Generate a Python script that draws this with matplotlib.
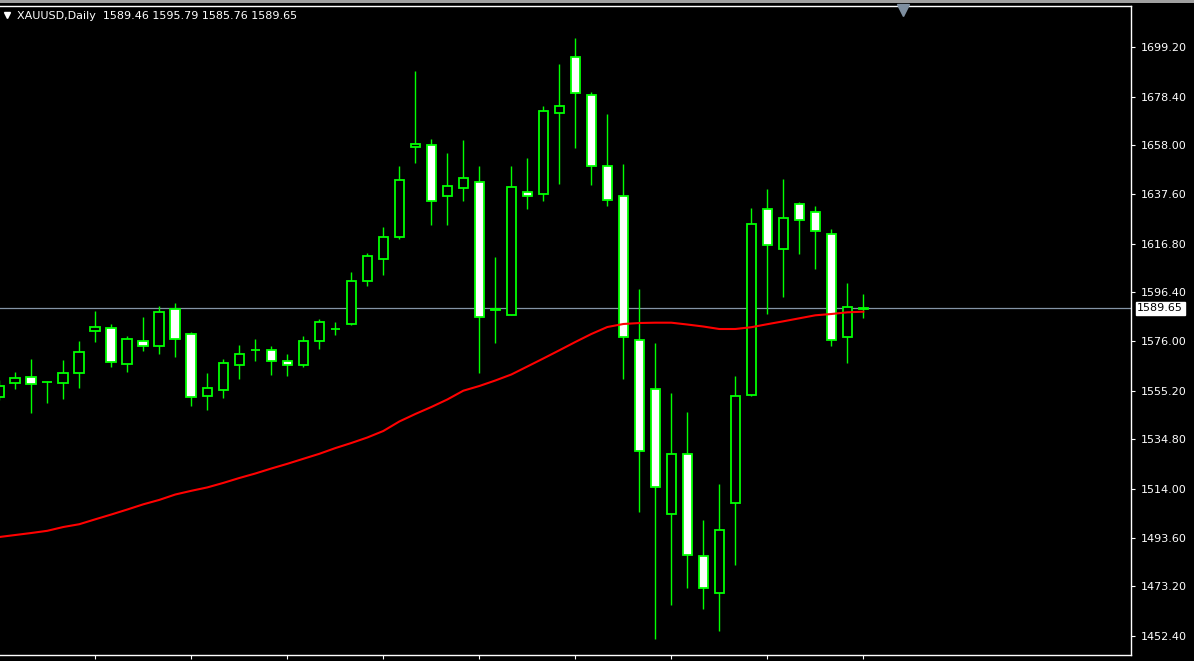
import numpy as np
import matplotlib.pyplot as plt
from matplotlib.patches import Rectangle

# =========================
# 数据 (XAUUSD Daily)
# =========================
symbol_title = "XAUUSD,Daily  1589.46 1595.79 1585.76 1589.65"
last_price = 1589.65

opens = [1552.54, 1558.28, 1560.80, 1558.90, 1558.54, 1562.73, 1580.32, 1581.33, 1566.50, 1575.88,
         1574.04, 1589.29, 1578.82, 1553.09, 1555.60, 1566.08, 1572.05, 1572.11, 1567.50, 1566.08,
         1576.13, 1580.85, 1583.26, 1601.27, 1610.49, 1619.71, 1657.42, 1658.01, 1636.89, 1640.24,
         1642.51, 1589.20, 1587.11, 1638.32, 1637.48, 1671.42, 1694.88, 1678.96, 1649.21, 1636.64,
         1576.30, 1555.77, 1503.39, 1528.53, 1485.79, 1470.29, 1508.00, 1553.26, 1631.19, 1614.68,
         1633.29, 1629.94, 1620.72, 1577.56, 1589.46]
highs = [1559.67, 1563.02, 1568.47, 1559.25, 1568.05, 1576.01, 1588.58, 1583.13, 1578.10, 1586.06,
         1590.67, 1591.93, 1579.78, 1562.60, 1568.47, 1574.33, 1576.85, 1573.91, 1570.56, 1578.10,
         1585.23, 1583.97, 1604.92, 1612.88, 1623.78, 1649.34, 1689.14, 1660.65, 1654.78, 1660.23,
         1649.34, 1611.21, 1649.34, 1652.69, 1674.48, 1692.08, 1702.97, 1680.34, 1671.13, 1650.17,
         1597.80, 1575.17, 1554.22, 1546.26, 1501.00, 1516.09, 1561.34, 1631.74, 1639.70, 1643.89,
         1634.25, 1632.58, 1622.81, 1600.19, 1595.79]
lows = [1551.29, 1556.02, 1545.96, 1550.15, 1551.83, 1556.44, 1575.71, 1565.24, 1563.14, 1571.94,
        1570.69, 1569.43, 1548.90, 1547.22, 1552.25, 1560.21, 1567.75, 1561.76, 1561.34, 1565.11,
        1572.66, 1578.52, 1582.71, 1599.05, 1603.66, 1618.75, 1650.59, 1624.61, 1624.61, 1634.67,
        1562.73, 1575.30, 1586.90, 1631.44, 1634.80, 1641.92, 1657.00, 1641.50, 1632.70, 1560.21,
        1504.48, 1451.27, 1465.51, 1472.64, 1463.84, 1454.62, 1482.27, 1553.00, 1587.45, 1594.57,
        1612.59, 1606.30, 1574.04, 1566.91, 1585.76]
closes = [1557.15, 1560.50, 1557.86, 1558.70, 1562.47, 1571.27, 1581.75, 1567.33, 1576.72, 1574.04,
          1588.03, 1576.72, 1552.67, 1556.19, 1566.66, 1570.43, 1572.15, 1567.50, 1565.83, 1575.88,
          1583.84, 1580.95, 1601.02, 1611.50, 1619.46, 1643.34, 1658.43, 1634.80, 1640.83, 1644.18,
          1586.27, 1589.40, 1640.41, 1636.64, 1672.26, 1674.35, 1679.80, 1649.21, 1634.96, 1577.56,
          1529.79, 1514.70, 1528.53, 1486.21, 1472.38, 1496.69, 1552.84, 1624.91, 1616.11, 1627.42,
          1626.58, 1621.97, 1576.30, 1590.13, 1589.65]
ma_values = [1493.88, 1494.72, 1495.56, 1496.48, 1498.07, 1499.24, 1501.30, 1503.31, 1505.40, 1507.58,
             1509.43, 1511.69, 1513.24, 1514.66, 1516.55, 1518.60, 1520.49, 1522.58, 1524.55, 1526.65,
             1528.74, 1531.13, 1533.27, 1535.57, 1538.30, 1542.28, 1545.42, 1548.35, 1551.50, 1555.18,
             1557.15, 1559.46, 1561.97, 1565.32, 1568.68, 1572.11, 1575.59, 1578.94, 1581.87, 1583.13,
             1583.55, 1583.68, 1583.68, 1582.92, 1582.08, 1581.04, 1581.04, 1581.79, 1583.05, 1584.26,
             1585.52, 1586.78, 1587.32, 1588.03, 1588.29]

price_ticks = [1699.20, 1678.40, 1658.00, 1637.60, 1616.80, 1596.40, 1576.00,
               1555.20, 1534.80, 1514.00, 1493.60, 1473.20, 1452.40]
price_tick_labels = ["%.2f" % v for v in price_ticks]

# 底部时间刻度 (每 6 根 K 线)
time_tick_idx = [6, 12, 18, 24, 30, 36, 42, 48, 54]

# =========================
# 绘图
# =========================
green = "#00ff00"
grey_line = "#8494a6"

fig = plt.figure(figsize=(11.94, 6.61), dpi=100, facecolor="black")
ax = fig.add_axes([0.0, 1 - 655 / 661, 1131 / 1194, 649 / 661], facecolor="black")

x = np.arange(len(opens)) - 1  # first bar is cut off at the left edge
o = np.array(opens)
h = np.array(highs)
l = np.array(lows)
c = np.array(closes)

# 当前价格横线
ax.axhline(last_price, color=grey_line, linewidth=0.9, zorder=1)

# 影线
ax.vlines(x, l, h, color=green, linewidth=1.0, zorder=2)

# 实体: 阳线黑色, 阴线白色
body_bottom = np.minimum(o, c)
body_height = np.abs(c - o)
face = ["black" if cc >= oo else "white" for oo, cc in zip(o, c)]
ax.bar(x, body_height, bottom=body_bottom, width=0.6, color=face,
       edgecolor=green, linewidth=1.3, zorder=3)

# 均线
ax.plot(x, ma_values, color="#ff0000", linewidth=1.5, zorder=4)

ax.set_xlim(-0.956, 69.73)
ax.set_ylim(1444.44, 1716.38)

# 坐标轴样式
for side in ["top", "right", "bottom"]:
    ax.spines[side].set_color("white")
    ax.spines[side].set_linewidth(1.0)
ax.spines["left"].set_visible(False)

ax.yaxis.tick_right()
ax.set_yticks(price_ticks)
ax.set_yticklabels(price_tick_labels)
ax.tick_params(axis="y", colors="white", labelsize=8, length=3, width=0.8, pad=4)

ax.set_xticks([i - 1 for i in time_tick_idx])
ax.set_xticklabels([])
ax.tick_params(axis="x", colors="white", length=3, width=0.8)

# 当前价格标签
ax.text(1.0055, last_price, "%.2f" % last_price, transform=ax.get_yaxis_transform(),
        ha="left", va="center", fontsize=8, color="black",
        bbox=dict(boxstyle="square,pad=0.15", facecolor="white", edgecolor="white"),
        clip_on=False, zorder=6)

# 标题
ax.text(17 / 1131, 1 - 10 / 649, symbol_title, transform=ax.transAxes,
        ha="left", va="center", fontsize=8, color="white")
ax.plot([7 / 1131], [1 - 9 / 649], transform=ax.transAxes, marker="v",
        markersize=5, color="white", linestyle="none", clip_on=False)

# 右移标记
ax.plot([55.5], [1 - 4 / 649], transform=ax.get_xaxis_transform(), marker="v",
        markersize=8, color="#7f8fa0", linestyle="none", clip_on=False, zorder=6)

# 窗口顶部灰条
fig.patches.append(Rectangle((0, 1 - 3 / 661), 1, 3 / 661, transform=fig.transFigure,
                             facecolor="#a0a0a0", edgecolor="none"))

plt.savefig("out.png", dpi=100, facecolor="black")
